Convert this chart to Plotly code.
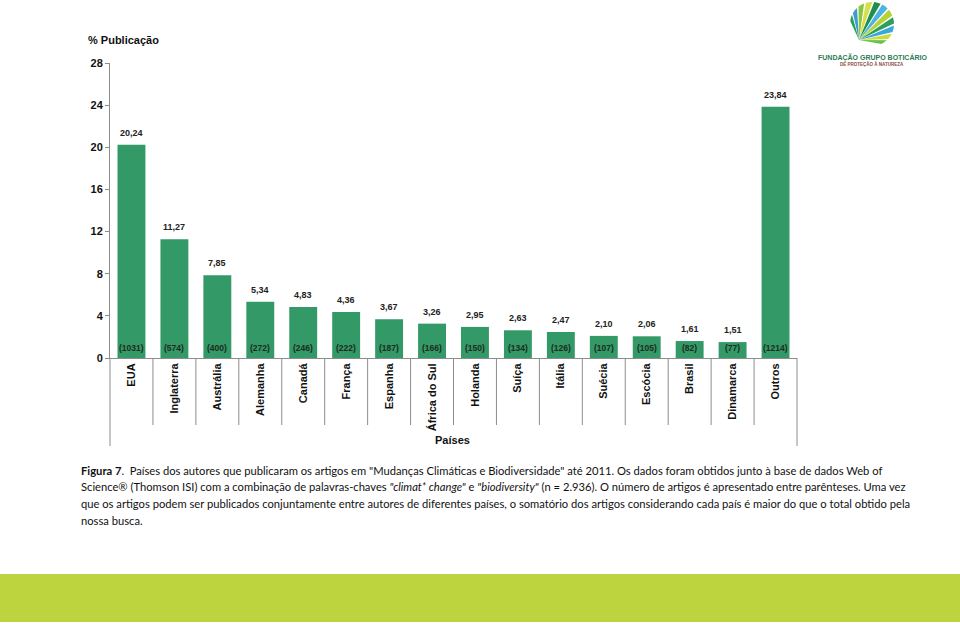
import math
import plotly.graph_objects as go

paises = ["EUA", "Inglaterra", "Austrália", "Alemanha", "Canadá", "França", "Espanha",
          "África do Sul", "Holanda", "Suíça", "Itália", "Suécia", "Escócia", "Brasil",
          "Dinamarca", "Outros"]
percentual = [20.24, 11.27, 7.85, 5.34, 4.83, 4.36, 3.67, 3.26, 2.95, 2.63, 2.47, 2.10,
              2.06, 1.61, 1.51, 23.84]
artigos = [1031, 574, 400, 272, 246, 222, 187, 166, 150, 134, 126, 107, 105, 82, 77, 1214]
y_ticks = [0, 4, 8, 12, 16, 20, 24, 28]

W, H = 960, 631
L, R, T, B = 110, 797, 63, 358  # page coordinates of the plot area

def px(x):
    return (x - L) / (R - L)

def py(y):
    return (B - y) / (B - T)

BAR = "#339966"
AX = "#8c8c8c"
FONT = "Liberation Sans"

fig = go.Figure()
fig.add_trace(go.Bar(x=paises, y=percentual, marker=dict(color=BAR, line=dict(width=0)),
                     hoverinfo="skip"))

ann = []
for p, v, n in zip(paises, percentual, artigos):
    ann.append(dict(x=p, y=v, xref="x", yref="y", text=f"{v:.2f}".replace(".", ","),
                    showarrow=False, yanchor="bottom", yshift=5,
                    font=dict(family=FONT, size=9, color="#222", weight="bold")))
    ann.append(dict(x=p, y=0, xref="x", yref="y", text=f"({n})",
                    showarrow=False, yanchor="bottom", yshift=3,
                    font=dict(family=FONT, size=8.5, color="#1e2b22", weight="bold")))

# axis titles
ann.append(dict(x=px(86), y=py(40), xref="paper", yref="paper", text="% Publicação",
                showarrow=False, xanchor="left", yanchor="middle",
                font=dict(family=FONT, size=11, color="#111", weight="bold")))
ann.append(dict(x=px(452), y=py(440), xref="paper", yref="paper", text="Países",
                showarrow=False, xanchor="center", yanchor="middle",
                font=dict(family=FONT, size=11, color="#111", weight="bold")))

# caption
CAP = "Lato"
cap_lines = [
    "<b>Figura 7</b>.  Países dos autores que publicaram os artigos em \"Mudanças Climáticas e Biodiversidade\" até 2011. Os dados foram obtidos junto à base de dados Web of",
    "Science® (Thomson ISI) com a combinação de palavras-chaves <i>\"climat* change\"</i> e <i>\"biodiversity\"</i> (n = 2.936). O número de artigos é apresentado entre parênteses. Uma vez",
    "que os artigos podem ser publicados conjuntamente entre autores de diferentes países, o somatório dos artigos considerando cada país é maior do que o total obtido pela",
    "nossa busca.",
]
for i, line in enumerate(cap_lines):
    ann.append(dict(x=px(79), y=py(470 + i * 16.7), xref="paper", yref="paper", text=line,
                    showarrow=False, xanchor="left", yanchor="middle",
                    font=dict(family=CAP, size=11.2, color="#111")))

# logo text
ann.append(dict(x=px(872), y=py(57), xref="paper", yref="paper", text="FUNDAÇÃO GRUPO BOTICÁRIO",
                showarrow=False, xanchor="center", yanchor="middle",
                font=dict(family=FONT, size=7, color="#2f7a55", weight="bold")))
ann.append(dict(x=px(872), y=py(64), xref="paper", yref="paper", text="DE PROTEÇÃO À NATUREZA",
                showarrow=False, xanchor="center", yanchor="middle",
                font=dict(family=FONT, size=4.5, color="#8a4a3a", weight="bold")))

shapes = []
# category dividers below axis
n = len(paises)
for i in range(1, n):
    shapes.append(dict(type="line", xref="paper", yref="paper", x0=i / n, x1=i / n,
                       y0=py(B), y1=py(425), line=dict(color=AX, width=1)))
# extended left axis and right border
shapes.append(dict(type="line", xref="paper", yref="paper", x0=0, x1=0, y0=py(B), y1=py(446),
                   line=dict(color=AX, width=1)))
shapes.append(dict(type="line", xref="paper", yref="paper", x0=1, x1=1, y0=py(B), y1=py(446),
                   line=dict(color=AX, width=1)))
# bottom green band
shapes.append(dict(type="rect", xref="paper", yref="paper", x0=px(0), x1=px(960),
                   y0=py(574), y1=py(622), line=dict(width=0), fillcolor="#bed43f", layer="below"))

# logo fan (approximation)
cx, cy, r = 872, 24, 22
ox, oy = 859, 40
cols = ["#2e9e5b", "#3a9bd5", "#8cc63f", "#d6e04a", "#1f8f4e", "#4db3e0",
        "#b5d334", "#2e9e5b", "#3aa8d8", "#c8dc3a", "#6cc04a"]
a_start, step, gap = 172, 22, 5
for k, col in enumerate(cols):
    a0 = math.radians(a_start - k * step)
    a1 = math.radians(a_start - k * step - (step - gap))
    pts = []
    for a in (a0, (a0 + a1) / 2, a1):
        pts.append((cx + r * math.cos(a), cy - r * math.sin(a)))
    path = (f"M {px(ox)},{py(oy)} L {px(pts[0][0])},{py(pts[0][1])} "
            f"L {px(pts[1][0])},{py(pts[1][1])} L {px(pts[2][0])},{py(pts[2][1])} Z")
    shapes.append(dict(type="path", xref="paper", yref="paper", path=path,
                       fillcolor=col, line=dict(width=0)))

fig.update_layout(
    width=W, height=H,
    margin=dict(l=L, r=W - R, t=T, b=H - B),
    paper_bgcolor="white", plot_bgcolor="white",
    showlegend=False, bargap=0.35,
    annotations=ann, shapes=shapes,
    xaxis=dict(range=[-0.5, n - 0.5], showline=True, linecolor=AX, linewidth=1,
               ticks="", tickangle=-90, showgrid=False, zeroline=False,
               tickfont=dict(family=FONT, size=11, color="#111", weight="bold")),
    yaxis=dict(range=[0, 28], tickvals=y_ticks, ticktext=[str(t) for t in y_ticks],
               showline=True, linecolor=AX, linewidth=1, ticks="outside", ticklen=4,
               tickcolor=AX, showgrid=False, zeroline=False,
               tickfont=dict(family=FONT, size=11, color="#111", weight="bold")),
)

fig.write_html("out.html", config={"displayModeBar": False, "staticPlot": True},
               post_script="document.body.style.margin='0';document.body.style.overflow='hidden';")
